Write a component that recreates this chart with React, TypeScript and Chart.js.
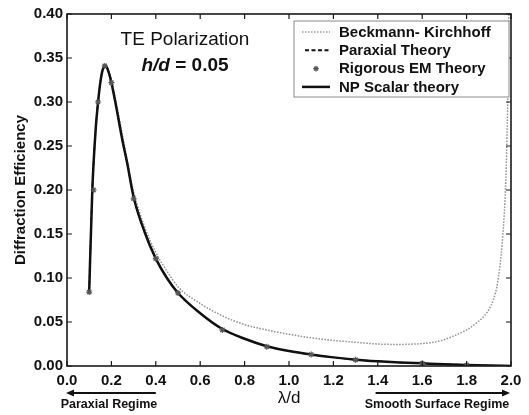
import React, { useEffect, useRef } from "react";
import { Chart, registerables } from "chart.js";
Chart.register(...registerables);

// ---- data ----
const npX = [0.1, 0.114, 0.13, 0.14, 0.15, 0.16, 0.17, 0.18, 0.19, 0.2, 0.22, 0.25, 0.27, 0.3, 0.35, 0.4, 0.45, 0.5, 0.6, 0.7, 0.8, 0.9, 1.0, 1.1, 1.2, 1.3, 1.4, 1.5, 1.6, 1.7, 1.8, 1.9, 2.0];
const npY = [0.085, 0.2, 0.272, 0.3, 0.322, 0.336, 0.341, 0.339, 0.332, 0.322, 0.297, 0.256, 0.232, 0.192, 0.152, 0.122, 0.1, 0.083, 0.06, 0.042, 0.031, 0.0225, 0.017, 0.013, 0.0098, 0.0072, 0.0054, 0.004, 0.003, 0.002, 0.0012, 0.0005, 0.0];

const paraxialX = [0.1, 0.114, 0.13, 0.14, 0.15, 0.16, 0.17, 0.18, 0.19, 0.2, 0.22, 0.25, 0.27, 0.3, 0.35, 0.4, 0.45, 0.5, 0.6, 0.7, 0.8, 0.9, 1.0, 1.1, 1.2, 1.3, 1.4, 1.5, 1.6, 1.7, 1.8, 1.9, 2.0];
const paraxialY = [0.085, 0.2, 0.272, 0.3, 0.322, 0.336, 0.341, 0.339, 0.332, 0.322, 0.297, 0.256, 0.232, 0.192, 0.152, 0.122, 0.1, 0.083, 0.06, 0.042, 0.031, 0.0225, 0.017, 0.013, 0.0098, 0.0072, 0.0054, 0.004, 0.003, 0.002, 0.0012, 0.0005, 0.0];

const bkX = [0.1, 0.114, 0.13, 0.14, 0.15, 0.16, 0.17, 0.18, 0.19, 0.2, 0.22, 0.25, 0.3, 0.35, 0.4, 0.45, 0.5, 0.6, 0.7, 0.8, 0.9, 1.0, 1.1, 1.2, 1.3, 1.4, 1.5, 1.55, 1.6, 1.65, 1.7, 1.75, 1.8, 1.85, 1.88, 1.9, 1.92, 1.94, 1.955, 1.965, 1.975, 1.982, 1.987, 1.99];
const bkY = [0.085, 0.2, 0.272, 0.3, 0.322, 0.336, 0.341, 0.34, 0.334, 0.325, 0.301, 0.262, 0.198, 0.158, 0.129, 0.108, 0.09, 0.071, 0.057, 0.047, 0.041, 0.036, 0.032, 0.029, 0.027, 0.025, 0.0245, 0.0248, 0.0255, 0.027, 0.03, 0.035, 0.041, 0.05, 0.057, 0.064, 0.075, 0.095, 0.125, 0.155, 0.2, 0.26, 0.33, 0.4];

const emX = [0.1, 0.12, 0.14, 0.17, 0.2, 0.3, 0.4, 0.5, 0.7, 0.9, 1.1, 1.3, 1.6, 1.8];
const emY = [0.084, 0.2, 0.3, 0.341, 0.322, 0.19, 0.122, 0.083, 0.041, 0.0218, 0.013, 0.007, 0.003, 0.001];

const xMin = 0, xMax = 2, xStep = 0.2;
const yMin = 0, yMax = 0.4, yStep = 0.05;

const labelBK = "Beckmann- Kirchhoff";
const labelPar = "Paraxial Theory";
const labelEM = "Rigorous EM Theory";
const labelNP = "NP Scalar theory";

const titleLine1 = "TE Polarization";
const titleItalic = "h/d";
const titleRest = " = 0.05";
const xTitle = "λ/d";
const yTitle = "Diffraction Efficiency";
const leftRegime = "Paraxial Regime";
const rightRegime = "Smooth Surface Regime";

const FONT = "'Liberation Sans', Arial, sans-serif";

const pts = (xs: number[], ys: number[]) => xs.map((x, i) => ({ x, y: ys[i] }));

function drawArrow(ctx: CanvasRenderingContext2D, x1: number, x2: number, y: number) {
  const dir = x2 > x1 ? 1 : -1;
  ctx.beginPath();
  ctx.moveTo(x1, y);
  ctx.lineTo(x2 - dir * 6, y);
  ctx.stroke();
  ctx.beginPath();
  ctx.moveTo(x2, y);
  ctx.lineTo(x2 - dir * 8, y - 3.5);
  ctx.lineTo(x2 - dir * 8, y + 3.5);
  ctx.closePath();
  ctx.fill();
}

const decor = {
  id: "decor",
  afterDraw(chart: any) {
    const { ctx, chartArea: a, scales } = chart;
    const xs = scales.x, ys = scales.y;
    ctx.save();
    ctx.strokeStyle = "#1a1a1a";
    ctx.lineWidth = 1.6;
    ctx.strokeRect(a.left, a.top, a.right - a.left, a.bottom - a.top);
    ctx.lineWidth = 1.2;
    ctx.beginPath();
    xs.ticks.forEach((t: any) => {
      const px = xs.getPixelForValue(t.value);
      ctx.moveTo(px, a.bottom); ctx.lineTo(px, a.bottom - 5);
      ctx.moveTo(px, a.top); ctx.lineTo(px, a.top + 5);
    });
    ys.ticks.forEach((t: any) => {
      const py = ys.getPixelForValue(t.value);
      ctx.moveTo(a.left, py); ctx.lineTo(a.left + 5, py);
      ctx.moveTo(a.right, py); ctx.lineTo(a.right - 5, py);
    });
    ctx.stroke();

    const cx = a.left + 118;
    ctx.fillStyle = "#111";
    ctx.textBaseline = "middle";
    ctx.textAlign = "center";
    ctx.font = `19px ${FONT}`;
    ctx.fillText(titleLine1, cx, a.top + 26);
    ctx.font = `italic bold 19px ${FONT}`;
    const w1 = ctx.measureText(titleItalic).width;
    ctx.font = `bold 19px ${FONT}`;
    const w2 = ctx.measureText(titleRest).width;
    const sx = cx - (w1 + w2) / 2;
    ctx.textAlign = "left";
    ctx.font = `italic bold 19px ${FONT}`;
    ctx.fillText(titleItalic, sx, a.top + 52);
    ctx.font = `bold 19px ${FONT}`;
    ctx.fillText(titleRest, sx + w1, a.top + 52);

    const lx = a.right - 217, ly = a.top + 7, lw = 215, lh = 76;
    ctx.fillStyle = "#fff";
    ctx.fillRect(lx, ly, lw, lh);
    ctx.strokeStyle = "#8a8a8a";
    ctx.lineWidth = 1;
    ctx.strokeRect(lx, ly, lw, lh);
    const rows = [labelBK, labelPar, labelEM, labelNP];
    const sx0 = lx + 8, sx1 = lx + 36, tx = lx + 45;
    rows.forEach((lab, i) => {
      const ry = ly + 11 + i * 18.3;
      ctx.save();
      if (i === 0) {
        ctx.strokeStyle = "#9a9a9a"; ctx.lineWidth = 1.5; ctx.setLineDash([1.5, 1.5]);
        ctx.beginPath(); ctx.moveTo(sx0, ry); ctx.lineTo(sx1, ry); ctx.stroke();
      } else if (i === 1) {
        ctx.strokeStyle = "#111"; ctx.lineWidth = 2; ctx.setLineDash([4, 2.5]);
        ctx.beginPath(); ctx.moveTo(sx0 + 3, ry); ctx.lineTo(sx1, ry); ctx.stroke();
      } else if (i === 2) {
        const mx = (sx0 + sx1) / 2;
        ctx.strokeStyle = "#555"; ctx.lineWidth = 1.2;
        ctx.beginPath();
        for (let k = 0; k < 4; k++) {
          const ang = (k * Math.PI) / 4;
          ctx.moveTo(mx - 2.8 * Math.cos(ang), ry - 2.8 * Math.sin(ang));
          ctx.lineTo(mx + 2.8 * Math.cos(ang), ry + 2.8 * Math.sin(ang));
        }
        ctx.stroke();
      } else {
        ctx.strokeStyle = "#111"; ctx.lineWidth = 2.5;
        ctx.beginPath(); ctx.moveTo(sx0, ry); ctx.lineTo(sx1, ry); ctx.stroke();
      }
      ctx.restore();
      ctx.fillStyle = "#111";
      ctx.font = `bold 15px ${FONT}`;
      ctx.textAlign = "left";
      ctx.textBaseline = "middle";
      ctx.fillText(lab, tx, ry + 0.5);
    });

    ctx.strokeStyle = "#111";
    ctx.fillStyle = "#111";
    ctx.lineWidth = 2;
    const ay = a.bottom + 27;
    drawArrow(ctx, xs.getPixelForValue(0.4), a.left - 1, ay);
    drawArrow(ctx, xs.getPixelForValue(1.39), a.right - 1, ay);
    ctx.font = `bold 12.5px ${FONT}`;
    ctx.textAlign = "center";
    ctx.textBaseline = "middle";
    ctx.fillText(leftRegime, a.left + 42, a.bottom + 39);
    ctx.fillText(rightRegime, a.right - 74, a.bottom + 39);
    ctx.restore();
  },
};

export default function App() {
  const ref = useRef<HTMLCanvasElement | null>(null);
  useEffect(() => {
    if (!ref.current) return;
    const chart = new Chart(ref.current, {
      type: "line",
      data: {
        datasets: [
          {
            label: labelEM,
            data: pts(emX, emY),
            showLine: false,
            pointStyle: "star",
            pointRadius: 3,
            borderColor: "#555",
            backgroundColor: "#555",
            pointBorderWidth: 1.2,
            order: 0,
          },
          {
            label: labelPar,
            data: pts(paraxialX, paraxialY),
            borderColor: "#111",
            borderWidth: 1.5,
            borderDash: [4, 3],
            pointRadius: 0,
            cubicInterpolationMode: "monotone",
            fill: false,
            order: 1,
          },
          {
            label: labelNP,
            data: pts(npX, npY),
            borderColor: "#111",
            borderWidth: 2.5,
            pointRadius: 0,
            cubicInterpolationMode: "monotone",
            fill: false,
            order: 2,
          },
          {
            label: labelBK,
            data: pts(bkX, bkY),
            borderColor: "#8f8f8f",
            borderWidth: 1.5,
            borderDash: [1.5, 1.5],
            pointRadius: 0,
            cubicInterpolationMode: "monotone",
            fill: false,
            order: 3,
          },
        ],
      },
      options: {
        responsive: false,
        animation: false,
        devicePixelRatio: 1,
        layout: { padding: { left: 0, top: 14, right: 18, bottom: 0 } },
        plugins: { legend: { display: false }, tooltip: { enabled: false } },
        scales: {
          x: {
            type: "linear",
            min: xMin,
            max: xMax,
            grid: { display: false, drawTicks: false },
            border: { display: false },
            afterFit: (s: any) => { s.height = 49; },
            ticks: {
              stepSize: xStep,
              maxRotation: 0,
              autoSkip: false,
              padding: 6,
              color: "#111",
              font: { family: FONT, size: 15, weight: "bold" },
              callback: (v: any) => Number(v).toFixed(1),
            },
            title: {
              display: true,
              text: xTitle,
              color: "#111",
              font: { family: FONT, size: 17 },
              padding: { top: 0, bottom: 6 },
            },
          },
          y: {
            type: "linear",
            min: yMin,
            max: yMax,
            grid: { display: false, drawTicks: false },
            border: { display: false },
            afterFit: (s: any) => { s.width = 67; },
            ticks: {
              stepSize: yStep,
              autoSkip: false,
              padding: 4,
              color: "#111",
              font: { family: FONT, size: 15, weight: "bold" },
              callback: (v: any) => Number(v).toFixed(2),
            },
            title: {
              display: true,
              text: yTitle,
              color: "#111",
              font: { family: FONT, size: 15, weight: "bold" },
              padding: { top: 12, bottom: 0 },
            },
          },
        },
      },
      plugins: [decor],
    } as any);
    return () => chart.destroy();
  }, []);
  return (
    <div style={{ position: "fixed", left: 0, top: 0, width: 529, height: 415, background: "#fff" }}>
      <canvas ref={ref} width={529} height={415} style={{ display: "block" }} />
    </div>
  );
}
